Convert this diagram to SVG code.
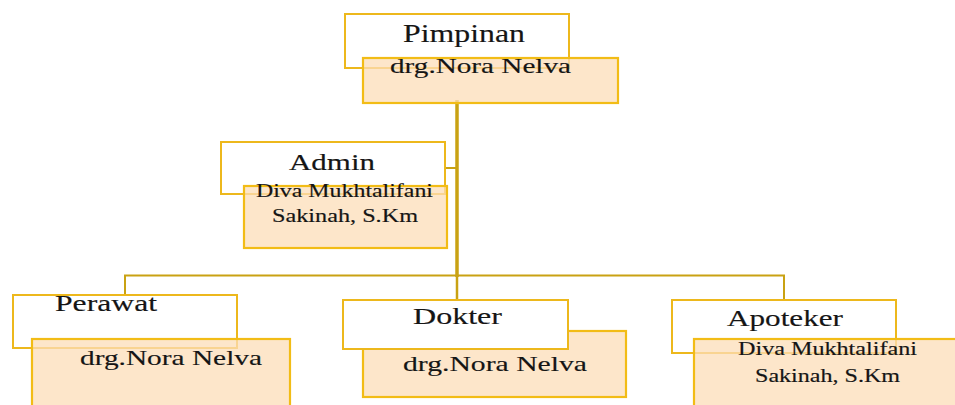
<svg xmlns="http://www.w3.org/2000/svg" width="955" height="405" viewBox="0 0 955 405">
<style>
.title{fill:#fff;stroke:#EDB81C;stroke-width:2}
.name{fill:#FCDDB8;fill-opacity:0.75;stroke:#F2BC16;stroke-width:2.2}
.t{font-family:"Liberation Serif","Times New Roman",serif;fill:#151515;stroke:#151515;stroke-width:0.15}
.conn{stroke:#C9A213;fill:none}
</style>
<rect width="955" height="405" fill="#fff"/>
<g id="connectors">
<line class="conn" x1="457" y1="100" x2="457" y2="277" stroke-width="3.5"/>
<line class="conn" x1="445" y1="168" x2="457" y2="168" stroke-width="2"/>
<polyline class="conn" points="125,294 125,275.5 784,275.5 784,300" stroke-width="2"/>
<line class="conn" x1="457" y1="275" x2="457" y2="300" stroke-width="2.5"/>
</g>
<g id="pimpinan">
<rect class="title" x="345" y="14" width="224" height="54"/>
<text class="t" x="403" y="42" font-size="25" textLength="122" lengthAdjust="spacingAndGlyphs">Pimpinan</text>
<rect class="name" x="363" y="58" width="255" height="45"/>
<text class="t" x="390" y="73" font-size="22" textLength="181" lengthAdjust="spacingAndGlyphs">drg.Nora Nelva</text>
</g>
<g id="admin">
<rect class="title" x="221" y="142" width="224" height="52"/>
<text class="t" x="289" y="170" font-size="23" textLength="86" lengthAdjust="spacingAndGlyphs">Admin</text>
<rect class="name" x="244" y="186" width="203" height="62"/>
<text class="t" x="256" y="197" font-size="18" textLength="177" lengthAdjust="spacingAndGlyphs">Diva Mukhtalifani</text>
<text class="t" x="272" y="222" font-size="18" textLength="146" lengthAdjust="spacingAndGlyphs">Sakinah, S.Km</text>
</g>
<g id="perawat">
<rect class="title" x="13" y="295" width="224" height="53"/>
<text class="t" x="55" y="311" font-size="23" textLength="102" lengthAdjust="spacingAndGlyphs">Perawat</text>
<rect class="name" x="32" y="339" width="258" height="70"/>
<text class="t" x="80" y="365" font-size="22" textLength="182" lengthAdjust="spacingAndGlyphs">drg.Nora Nelva</text>
</g>
<g id="dokter">
<rect class="name" x="363" y="331" width="263" height="66"/>
<rect class="title" x="343" y="300" width="225" height="49"/>
<text class="t" x="413" y="324" font-size="23" textLength="89" lengthAdjust="spacingAndGlyphs">Dokter</text>
<text class="t" x="403" y="371" font-size="22" textLength="184" lengthAdjust="spacingAndGlyphs">drg.Nora Nelva</text>
</g>
<g id="apoteker">
<rect class="title" x="672" y="300" width="224" height="53"/>
<text class="t" x="727" y="326" font-size="23" textLength="116" lengthAdjust="spacingAndGlyphs">Apoteker</text>
<rect class="name" x="694" y="339" width="270" height="70"/>
<text class="t" x="738" y="355" font-size="18" textLength="179" lengthAdjust="spacingAndGlyphs">Diva Mukhtalifani</text>
<text class="t" x="755" y="382" font-size="18" textLength="145" lengthAdjust="spacingAndGlyphs">Sakinah, S.Km</text>
</g>
</svg>
